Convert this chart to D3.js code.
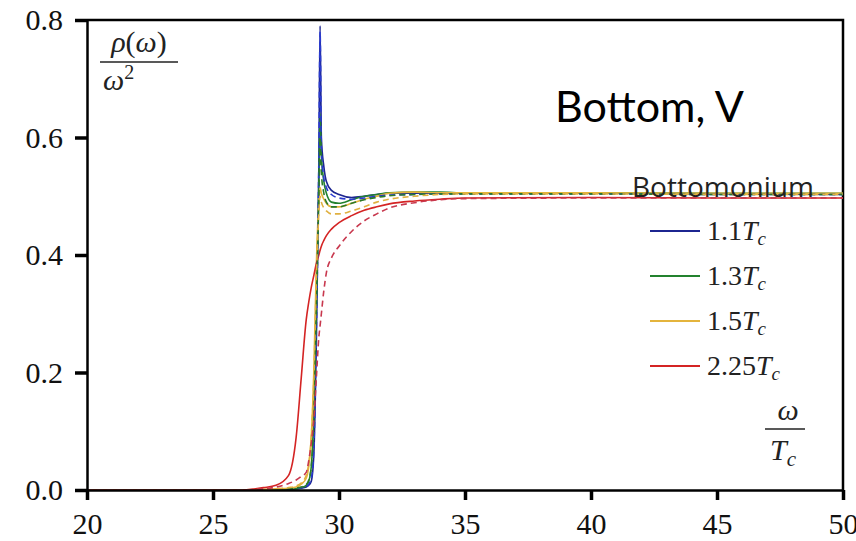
<!DOCTYPE html>
<html>
<head>
<meta charset="utf-8">
<script src="https://cdn.jsdelivr.net/npm/d3@7"></script>
<style>
  body { margin: 0; background: #fff; }
  svg { display: block; }
</style>
</head>
<body>
<div id="chart"></div>
<script>
// omega / T_c sample points (dense around the threshold)
var omega = [20, 25, 26, 27, 27.5, 28, 28.3, 28.5, 28.7, 28.8, 28.9, 29.0, 29.1, 29.2, 29.25,
             29.3, 29.4, 29.5, 29.7, 30, 30.5, 31, 31.5, 32, 33, 34, 35, 40, 45, 50];

// rho(omega)/omega^2, solid curves
var solid11  = [0, 0, 0, 0, 0, 0.001, 0.002, 0.003, 0.005, 0.008, 0.015, 0.06, 0.25, 0.55, 0.79,
                0.6, 0.55, 0.525, 0.51, 0.503, 0.498, 0.5, 0.503, 0.505, 0.505, 0.505, 0.505, 0.505, 0.504, 0.503];
var solid13  = [0, 0, 0, 0, 0, 0.001, 0.002, 0.004, 0.008, 0.015, 0.04, 0.13, 0.32, 0.52, 0.64,
                0.57, 0.525, 0.505, 0.49, 0.488, 0.494, 0.5, 0.503, 0.506, 0.507, 0.507, 0.506, 0.506, 0.505, 0.505];
var solid15  = [0, 0, 0, 0.001, 0.002, 0.003, 0.005, 0.01, 0.02, 0.04, 0.09, 0.2, 0.38, 0.49, 0.515,
                0.505, 0.495, 0.488, 0.482, 0.482, 0.488, 0.495, 0.5, 0.505, 0.507, 0.506, 0.506, 0.506, 0.505, 0.505];
var solid225 = [0, 0, 0, 0.004, 0.008, 0.025, 0.09, 0.19, 0.29, 0.32, 0.345, 0.365, 0.385, 0.4, 0.408,
                0.415, 0.425, 0.433, 0.444, 0.455, 0.467, 0.476, 0.482, 0.487, 0.492, 0.495, 0.497, 0.498, 0.497, 0.497];

// dashed curves
var dashed11  = [0, 0, 0, 0, 0.001, 0.002, 0.003, 0.004, 0.006, 0.01, 0.02, 0.07, 0.27, 0.56, 0.78,
                 0.58, 0.53, 0.515, 0.503, 0.497, 0.495, 0.497, 0.5, 0.502, 0.503, 0.504, 0.504, 0.504, 0.503, 0.503];
var dashed13  = [0, 0, 0, 0, 0.001, 0.002, 0.003, 0.005, 0.009, 0.017, 0.04, 0.12, 0.3, 0.5, 0.6,
                 0.54, 0.505, 0.49, 0.482, 0.482, 0.488, 0.494, 0.498, 0.501, 0.503, 0.504, 0.504, 0.504, 0.503, 0.503];
var dashed15  = [0, 0, 0, 0.001, 0.002, 0.004, 0.007, 0.012, 0.025, 0.045, 0.09, 0.19, 0.36, 0.47, 0.5,
                 0.49, 0.48, 0.475, 0.47, 0.47, 0.475, 0.482, 0.49, 0.495, 0.5, 0.503, 0.504, 0.504, 0.503, 0.503];
var dashed225 = [0, 0, 0, 0.002, 0.005, 0.011, 0.017, 0.023, 0.03, 0.05, 0.08, 0.12, 0.19, 0.26, 0.28,
                 0.3, 0.34, 0.37, 0.395, 0.415, 0.44, 0.458, 0.47, 0.48, 0.489, 0.494, 0.496, 0.497, 0.497, 0.497];

var temps = ["1.1", "1.3", "1.5", "2.25"];
var xTicks = [20, 25, 30, 35, 40, 45, 50];
var yTicks = [0, 0.2, 0.4, 0.6, 0.8];

var solidColors  = ["#1c2590", "#23822e", "#e4b43c", "#d42424"];
var dashedColors = ["#2a3ad0", "#2a7a2a", "#e0b040", "#c8384e"];

var serif = "'Liberation Serif', 'Times New Roman', serif";

var width = 856, height = 541;
var margin = {top: 20, right: 13, bottom: 51, left: 87};
var w = width - margin.left - margin.right;
var h = height - margin.top - margin.bottom;

var svg = d3.select("#chart").append("svg")
    .attr("width", width)
    .attr("height", height);

var g = svg.append("g")
    .attr("transform", "translate(" + margin.left + "," + margin.top + ")");

var x = d3.scaleLinear().domain([20, 50]).range([0, w]);
var y = d3.scaleLinear().domain([0, 0.8]).range([h, 0]);

var line = d3.line()
    .x(function(d){ return x(d[0]); })
    .y(function(d){ return y(d[1]); })
    .curve(d3.curveMonotoneX);

function pairs(vals){
    return omega.map(function(o, i){ return [o, vals[i]]; });
}

var solids = [solid11, solid13, solid15, solid225];
var dashes = [dashed11, dashed13, dashed15, dashed225];

// frame (top + right)
g.append("path")
    .attr("d", "M0,0H" + w + "V" + h)
    .attr("fill", "none")
    .attr("stroke", "#000")
    .attr("stroke-width", 2.5);

solids.forEach(function(s, i){
    g.append("path")
        .datum(pairs(s))
        .attr("fill", "none")
        .attr("stroke", solidColors[i])
        .attr("stroke-width", 1.6)
        .attr("d", line);
});

dashes.forEach(function(s, i){
    g.append("path")
        .datum(pairs(s))
        .attr("fill", "none")
        .attr("stroke", dashedColors[i])
        .attr("stroke-width", 1.6)
        .attr("stroke-dasharray", "6,4")
        .attr("d", line);
});

var xAxis = g.append("g")
    .attr("transform", "translate(0," + h + ")")
    .call(d3.axisBottom(x).tickValues(xTicks).tickSize(10).tickSizeOuter(0).tickPadding(13)
        .tickFormat(d3.format("d")));

var yAxis = g.append("g")
    .call(d3.axisLeft(y).tickValues(yTicks).tickSize(12).tickSizeOuter(0).tickPadding(12)
        .tickFormat(d3.format(".1f")));

[xAxis, yAxis].forEach(function(a){
    a.attr("font-family", null).attr("font-size", null);
    a.select(".domain").attr("stroke-width", 2.5);
    a.selectAll(".tick line").attr("stroke-width", 3.5);
    a.selectAll(".tick text")
        .style("font-family", serif)
        .style("font-size", "30px")
        .attr("fill", "#111");
});

// y label  rho(omega)/omega^2
var yl = g.append("g").style("font-family", serif).style("font-size", "30px").attr("fill", "#222");
var num = yl.append("text").attr("x", 52).attr("y", 32).attr("text-anchor", "middle");
num.append("tspan").attr("font-style", "italic").text("ρ");
num.append("tspan").text("(");
num.append("tspan").attr("font-style", "italic").text("ω");
num.append("tspan").text(")");
yl.append("line").attr("x1", 13).attr("x2", 91).attr("y1", 42).attr("y2", 42)
    .attr("stroke", "#222").attr("stroke-width", 1.3);
var den = yl.append("text").attr("x", 16).attr("y", 70);
den.append("tspan").attr("font-style", "italic").text("ω");
den.append("tspan").style("font-size", "20px").attr("dy", -11).text("2");

// x label  omega/T_c
var xl = g.append("g").style("font-family", serif).style("font-size", "30px").attr("fill", "#222");
xl.append("text").attr("x", 701).attr("y", 400).attr("text-anchor", "middle")
    .attr("font-style", "italic").text("ω");
xl.append("line").attr("x1", 678).attr("x2", 718).attr("y1", 409).attr("y2", 409)
    .attr("stroke", "#222").attr("stroke-width", 1.3);
var tc = xl.append("text").attr("x", 683).attr("y", 440);
tc.append("tspan").attr("font-style", "italic").text("T");
tc.append("tspan").attr("font-style", "italic").style("font-size", "21px").attr("dy", 6).text("c");

// title
g.append("text")
    .attr("x", 468).attr("y", 102)
    .style("font-family", "Lato, sans-serif")
    .style("font-size", "43px")
    .attr("fill", "#000")
    .text("Bottom, V");

// legend
var legend = g.append("g").attr("transform", "translate(545,177)");
legend.append("text")
    .attr("x", 0).attr("y", 0)
    .style("font-family", "'Open Sans', sans-serif")
    .style("font-size", "28px")
    .attr("fill", "#222")
    .text("Bottomonium");

temps.forEach(function(t, i){
    var row = legend.append("g").attr("transform", "translate(0," + (34 + i * 45) + ")");
    row.append("line")
        .attr("x1", 18).attr("x2", 68).attr("y1", 0).attr("y2", 0)
        .attr("stroke", solidColors[i]).attr("stroke-width", 1.8);
    var lt = row.append("text")
        .attr("x", 75).attr("y", 9)
        .style("font-family", serif)
        .style("font-size", "28px")
        .attr("fill", "#222");
    lt.append("tspan").text(t);
    lt.append("tspan").attr("font-style", "italic").text("T");
    lt.append("tspan").attr("font-style", "italic").style("font-size", "19px").attr("dy", 5).text("c");
});
</script>
</body>
</html>
